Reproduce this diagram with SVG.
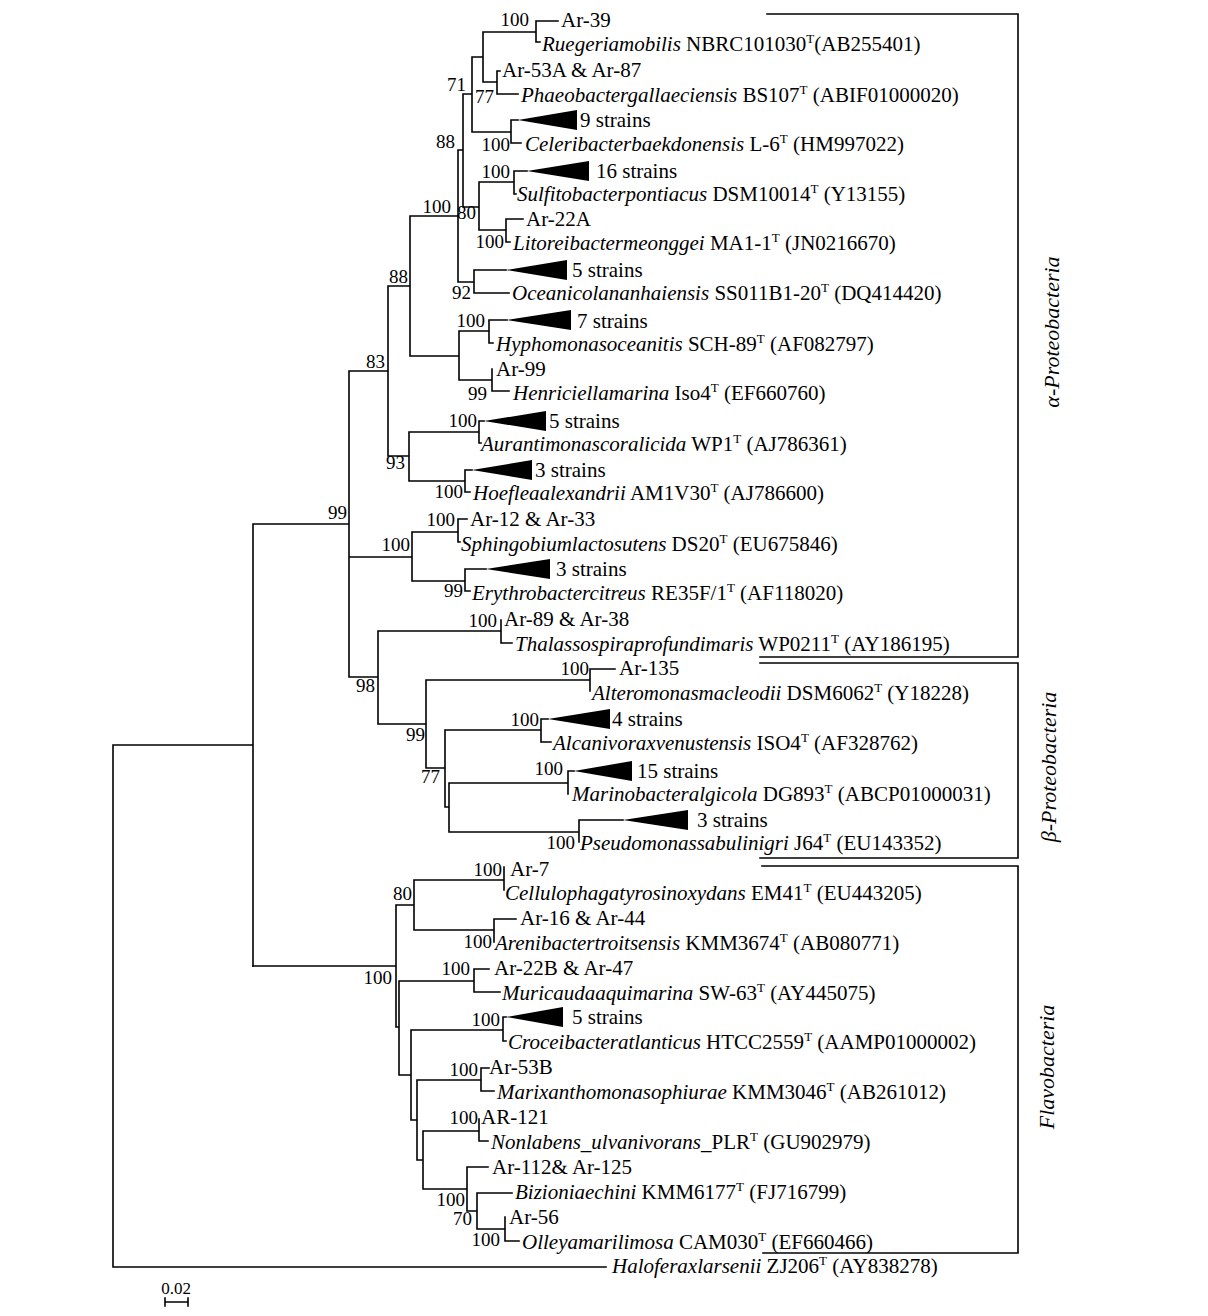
<svg xmlns="http://www.w3.org/2000/svg" width="1208" height="1316" viewBox="0 0 1208 1316">
<style>
text{font-family:"Liberation Serif","Times New Roman",serif;font-size:21px;fill:#000}
.i{font-style:italic}
.s{font-size:13px}
.bs{text-anchor:end;font-size:19px}
.br{font-style:italic;text-anchor:middle;font-size:22px}
.ln{fill:none;stroke:#000;stroke-width:1.6;stroke-linecap:square}
.tri{fill:#000;stroke:none}
</style>
<rect width="1208" height="1316" fill="#fff"/>
<g id="connectors" class="ln">
<path d="M536,21V42M536,21H558M536,42H540M483,32H536M483,32V82M483,82H497M497,71V94M497,71H500M497,94H518M472,57V132M472,57H483M472,132H511M511,120V143M511,120H518M511,143H521M463,94H472M463,94V207M463,207H479M479,182V230M479,182H514M514,171V194M514,171H527M514,194H516M479,230H506M506,219V242M506,219H523M506,242H510M458,150H463M458,150V282M458,282H474M474,270V293M474,270H506M474,293H509M410,216H458M410,216V356M410,356H459M459,331V380M459,331H489M489,320V343M489,320H507M489,343H493M459,380H492M492,369V391M492,391H509M388,286H410M388,286V456M388,456H409M409,432V481M409,432H479M479,421V443M479,421H484M479,443H481M409,481H465M465,470V492M465,470H472M465,492H470M349,371H388M349,371V677M349,557H412M412,532V581M412,532H458M458,519V542M458,519H467M458,542H460M412,581H465M465,569V591M465,569H486M465,591H470M349,677H378M378,631V724M378,631H501M501,620V643M501,643H512M378,724H426M426,680V768M426,680H590M590,669V691M590,669H615M426,768H445M445,730V807M445,730H541M541,719V742M541,719H548M541,742H551M445,807H449M449,783V832M449,783H568M568,771V794M568,771H574M449,832H579M579,820V842M579,820H623M253,524H349M253,524V966M113,745H253M113,745V1267M113,1267H606"/>
<path d="M253,966H396M396,905V1027M396,905H414M414,880V930M414,880H504M504,867V890M414,930H494M494,919V942M494,919H516M396,1027H399M399,981V1075M399,981H474M474,969V992M474,969H489M474,992H500M399,1075H411M411,1030V1120M411,1030H503M503,1017V1041M503,1017H506M503,1041H506M411,1120H417M417,1080V1160M417,1080H481M481,1068V1091M481,1068H489M481,1091H494M417,1160H423M423,1131V1189M423,1131H479M479,1119V1141M479,1141H488M423,1189H467M467,1167V1211M467,1167H488M467,1211H477M477,1193V1229M477,1193H512M477,1229H505M505,1217V1241M505,1241H519"/>
<path d="M767,14H1018V657H760M760,663H1018V858H760M762,866H1018V1253H763"/>
<path d="M165,1302H188M165,1298V1306M188,1298V1306"/>
</g>
<g id="bootstrap">
<text class="bs" x="529" y="26">100</text>
<text class="bs" x="494" y="103">77</text>
<text class="bs" x="466" y="91">71</text>
<text class="bs" x="510" y="151">100</text>
<text class="bs" x="455" y="148">88</text>
<text class="bs" x="510" y="178">100</text>
<text class="bs" x="476" y="219">80</text>
<text class="bs" x="504" y="248">100</text>
<text class="bs" x="451" y="213">100</text>
<text class="bs" x="471" y="299">92</text>
<text class="bs" x="408" y="283">88</text>
<text class="bs" x="485" y="327">100</text>
<text class="bs" x="487" y="400">99</text>
<text class="bs" x="385" y="368">83</text>
<text class="bs" x="477" y="427">100</text>
<text class="bs" x="405" y="469">93</text>
<text class="bs" x="463" y="498">100</text>
<text class="bs" x="347" y="519">99</text>
<text class="bs" x="455" y="526">100</text>
<text class="bs" x="410" y="551">100</text>
<text class="bs" x="463" y="597">99</text>
<text class="bs" x="497" y="627">100</text>
<text class="bs" x="375" y="692">98</text>
<text class="bs" x="589" y="675">100</text>
<text class="bs" x="425" y="741">99</text>
<text class="bs" x="539" y="726">100</text>
<text class="bs" x="440" y="783">77</text>
<text class="bs" x="563" y="775">100</text>
<text class="bs" x="575" y="849">100</text>
<text class="bs" x="502" y="876">100</text>
<text class="bs" x="412" y="900">80</text>
<text class="bs" x="492" y="948">100</text>
<text class="bs" x="392" y="984">100</text>
<text class="bs" x="470" y="975">100</text>
<text class="bs" x="500" y="1026">100</text>
<text class="bs" x="478" y="1076">100</text>
<text class="bs" x="478" y="1124">100</text>
<text class="bs" x="465" y="1206">100</text>
<text class="bs" x="472" y="1225">70</text>
<text class="bs" x="500" y="1246">100</text>
</g>
<g id="n1"><text x="561" y="27">Ar-39</text></g>
<g id="n2"><text x="542" y="51"><tspan class="i">Ruegeriamobilis</tspan> NBRC101030<tspan class="s" dy="-8">T</tspan><tspan dy="8">(AB255401)</tspan></text></g>
<g id="n3"><text x="502" y="77">Ar-53A &amp; Ar-87</text></g>
<g id="n4"><text x="521" y="102"><tspan class="i">Phaeobactergallaeciensis</tspan> BS107<tspan class="s" dy="-8">T</tspan><tspan dy="8"> (ABIF01000020)</tspan></text></g>
<g id="n5"><path class="tri" d="M518,120L577,110V130Z"/><text x="580" y="127">9 strains</text></g>
<g id="n6"><text x="525" y="151"><tspan class="i">Celeribacterbaekdonensis</tspan> L-6<tspan class="s" dy="-8">T</tspan><tspan dy="8"> (HM997022)</tspan></text></g>
<g id="n7"><path class="tri" d="M527,171L589,161V181Z"/><text x="596" y="178">16 strains</text></g>
<g id="n8"><text x="517" y="201"><tspan class="i">Sulfitobacterpontiacus</tspan> DSM10014<tspan class="s" dy="-8">T</tspan><tspan dy="8"> (Y13155)</tspan></text></g>
<g id="n9"><text x="526" y="226">Ar-22A</text></g>
<g id="n10"><text x="513" y="250"><tspan class="i">Litoreibactermeonggei</tspan> MA1-1<tspan class="s" dy="-8">T</tspan><tspan dy="8"> (JN0216670)</tspan></text></g>
<g id="n11"><path class="tri" d="M506,270L567,260V280Z"/><text x="572" y="277">5 strains</text></g>
<g id="n12"><text x="512" y="300"><tspan class="i">Oceanicolananhaiensis</tspan> SS011B1-20<tspan class="s" dy="-8">T</tspan><tspan dy="8"> (DQ414420)</tspan></text></g>
<g id="n13"><path class="tri" d="M507,320L571,310V330Z"/><text x="577" y="328">7 strains</text></g>
<g id="n14"><text x="496" y="351"><tspan class="i">Hyphomonasoceanitis</tspan> SCH-89<tspan class="s" dy="-8">T</tspan><tspan dy="8"> (AF082797)</tspan></text></g>
<g id="n15"><text x="496" y="376">Ar-99</text></g>
<g id="n16"><text x="513" y="400"><tspan class="i">Henriciellamarina</tspan> Iso4<tspan class="s" dy="-8">T</tspan><tspan dy="8"> (EF660760)</tspan></text></g>
<g id="n17"><path class="tri" d="M484,421L546,411V431Z"/><text x="549" y="428">5 strains</text></g>
<g id="n18"><text x="481" y="451"><tspan class="i">Aurantimonascoralicida</tspan> WP1<tspan class="s" dy="-8">T</tspan><tspan dy="8"> (AJ786361)</tspan></text></g>
<g id="n19"><path class="tri" d="M472,470L532,460V480Z"/><text x="535" y="477">3 strains</text></g>
<g id="n20"><text x="473" y="500"><tspan class="i">Hoefleaalexandrii</tspan> AM1V30<tspan class="s" dy="-8">T</tspan><tspan dy="8"> (AJ786600)</tspan></text></g>
<g id="n21"><text x="470" y="526">Ar-12 &amp; Ar-33</text></g>
<g id="n22"><text x="461" y="551"><tspan class="i">Sphingobiumlactosutens</tspan> DS20<tspan class="s" dy="-8">T</tspan><tspan dy="8"> (EU675846)</tspan></text></g>
<g id="n23"><path class="tri" d="M486,569L550,559V579Z"/><text x="556" y="576">3 strains</text></g>
<g id="n24"><text x="472" y="600"><tspan class="i">Erythrobactercitreus</tspan> RE35F/1<tspan class="s" dy="-8">T</tspan><tspan dy="8"> (AF118020)</tspan></text></g>
<g id="n25"><text x="504" y="626">Ar-89 &amp; Ar-38</text></g>
<g id="n26"><text x="515" y="651"><tspan class="i">Thalassospiraprofundimaris</tspan> WP0211<tspan class="s" dy="-8">T</tspan><tspan dy="8"> (AY186195)</tspan></text></g>
<g id="n27"><text x="619" y="675">Ar-135</text></g>
<g id="n28"><text x="592" y="700"><tspan class="i">Alteromonasmacleodii</tspan> DSM6062<tspan class="s" dy="-8">T</tspan><tspan dy="8"> (Y18228)</tspan></text></g>
<g id="n29"><path class="tri" d="M548,719L610,709V729Z"/><text x="612" y="726">4 strains</text></g>
<g id="n30"><text x="553" y="750"><tspan class="i">Alcanivoraxvenustensis</tspan> ISO4<tspan class="s" dy="-8">T</tspan><tspan dy="8"> (AF328762)</tspan></text></g>
<g id="n31"><path class="tri" d="M574,771L632,761V781Z"/><text x="637" y="778">15 strains</text></g>
<g id="n32"><text x="572" y="801"><tspan class="i">Marinobacteralgicola</tspan> DG893<tspan class="s" dy="-8">T</tspan><tspan dy="8"> (ABCP01000031)</tspan></text></g>
<g id="n33"><path class="tri" d="M623,820L688,810V830Z"/><text x="697" y="827">3 strains</text></g>
<g id="n34"><text x="580" y="850"><tspan class="i">Pseudomonassabulinigri</tspan> J64<tspan class="s" dy="-8">T</tspan><tspan dy="8"> (EU143352)</tspan></text></g>
<g id="n35"><text x="510" y="876">Ar-7</text></g>
<g id="n36"><text x="505" y="900"><tspan class="i">Cellulophagatyrosinoxydans</tspan> EM41<tspan class="s" dy="-8">T</tspan><tspan dy="8"> (EU443205)</tspan></text></g>
<g id="n37"><text x="520" y="925">Ar-16 &amp; Ar-44</text></g>
<g id="n38"><text x="495" y="950"><tspan class="i">Arenibactertroitsensis</tspan> KMM3674<tspan class="s" dy="-8">T</tspan><tspan dy="8"> (AB080771)</tspan></text></g>
<g id="n39"><text x="494" y="975">Ar-22B &amp; Ar-47</text></g>
<g id="n40"><text x="502" y="1000"><tspan class="i">Muricaudaaquimarina</tspan> SW-63<tspan class="s" dy="-8">T</tspan><tspan dy="8"> (AY445075)</tspan></text></g>
<g id="n41"><path class="tri" d="M506,1017L563,1007V1027Z"/><text x="572" y="1024">5 strains</text></g>
<g id="n42"><text x="508" y="1049"><tspan class="i">Croceibacteratlanticus</tspan> HTCC2559<tspan class="s" dy="-8">T</tspan><tspan dy="8"> (AAMP01000002)</tspan></text></g>
<g id="n43"><text x="489" y="1074">Ar-53B</text></g>
<g id="n44"><text x="497" y="1099"><tspan class="i">Marixanthomonasophiurae</tspan> KMM3046<tspan class="s" dy="-8">T</tspan><tspan dy="8"> (AB261012)</tspan></text></g>
<g id="n45"><text x="481" y="1124">AR-121</text></g>
<g id="n46"><text x="491" y="1149"><tspan class="i">Nonlabens_ulvanivorans</tspan>_PLR<tspan class="s" dy="-8">T</tspan><tspan dy="8"> (GU902979)</tspan></text></g>
<g id="n47"><text x="492" y="1174">Ar-112&amp; Ar-125</text></g>
<g id="n48"><text x="515" y="1199"><tspan class="i">Bizioniaechini</tspan> KMM6177<tspan class="s" dy="-8">T</tspan><tspan dy="8"> (FJ716799)</tspan></text></g>
<g id="n49"><text x="509" y="1224">Ar-56</text></g>
<g id="n50"><text x="522" y="1249"><tspan class="i">Olleyamarilimosa</tspan> CAM030<tspan class="s" dy="-8">T</tspan><tspan dy="8"> (EF660466)</tspan></text></g>
<g id="n51"><text x="612" y="1273"><tspan class="i">Haloferaxlarsenii</tspan> ZJ206<tspan class="s" dy="-8">T</tspan><tspan dy="8"> (AY838278)</tspan></text></g>
<g id="groups">
<text class="br" transform="translate(1059,332) rotate(-90)">α-Proteobacteria</text>
<text class="br" transform="translate(1056,767) rotate(-90)">β-Proteobacteria</text>
<text class="br" transform="translate(1054,1067) rotate(-90)">Flavobacteria</text>
</g>
<g id="scale"><text x="176" y="1294" style="text-anchor:middle;font-size:17px">0.02</text></g>
</svg>
